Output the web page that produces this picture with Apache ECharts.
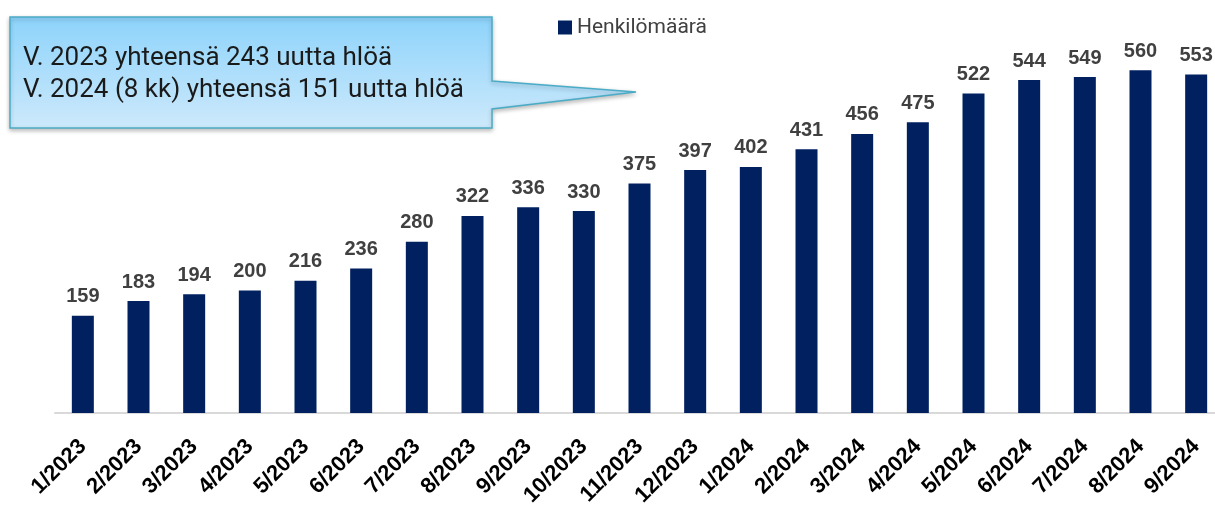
<!DOCTYPE html>
<html>
<head>
<meta charset="utf-8">
<script src="https://cdn.jsdelivr.net/npm/echarts@6/dist/echarts.min.js"></script>
<style>
  html, body { margin: 0; padding: 0; background: #fff; }
  #chart { width: 1215px; height: 507px; }
</style>
</head>
<body>
<div id="chart"></div>
<script>
// months shown on the x axis
const months = [
    "1/2023", "2/2023", "3/2023", "4/2023", "5/2023", "6/2023", "7/2023",
    "8/2023", "9/2023", "10/2023", "11/2023", "12/2023",
    "1/2024", "2/2024", "3/2024", "4/2024", "5/2024", "6/2024", "7/2024",
    "8/2024", "9/2024"
];

// head count per month
const henkilomaara = [
    159, 183, 194, 200, 216, 236, 280, 322, 336, 330, 375, 397,
    402, 431, 456, 475, 522, 544, 549, 560, 553
];

const seriesName = "Henkilömäärä";

const calloutLines = [
    "V. 2023 yhteensä 243 uutta hlöä",
    "V. 2024 (8 kk) yhteensä 151 uutta hlöä"
];

const chart = echarts.init(document.getElementById("chart"), null, { renderer: "canvas" });

chart.setOption({
    animation: false,
    backgroundColor: "#fff",
    legend: {
        data: [seriesName],
        left: 553,
        top: 12,
        icon: "rect",
        itemWidth: 14,
        itemHeight: 14,
        itemGap: 8,
        textStyle: { fontFamily: "Roboto", fontSize: 21, color: "#404040" }
    },
    // the plot runs a little past the right edge in the original,
    // so don't let echarts pull it back inside the canvas
    grid: {
        left: 55, width: 1169, top: 45.8, height: 367.2,
        containLabel: false,
        outerBoundsMode: "none"
    },
    xAxis: {
        type: "category",
        data: months,
        axisLine: { lineStyle: { color: "#d9d9d9", width: 2 } },
        axisTick: { show: false },
        axisLabel: {
            rotate: 45,
            margin: 30,
            interval: 0,
            fontFamily: "Liberation Sans",
            fontWeight: "bold",
            fontSize: 22,
            color: "#000"
        }
    },
    yAxis: {
        type: "value",
        min: 0,
        max: 600,
        show: false,
        splitLine: { show: false }
    },
    series: [{
        name: seriesName,
        type: "bar",
        data: henkilomaara,
        barWidth: 22,
        itemStyle: { color: "#002060" },
        label: {
            show: true,
            position: "top",
            distance: 9,
            fontFamily: "Liberation Sans",
            fontWeight: "bold",
            fontSize: 20,
            color: "#404040"
        }
    }],
    graphic: [{
        type: "polygon",
        shape: {
            points: [[10, 17], [492, 17], [492, 81], [636, 92], [492, 109], [492, 128], [10, 128]]
        },
        style: {
            fill: {
                type: "linear", x: 0, y: 0, x2: 0, y2: 1,
                colorStops: [
                    { offset: 0, color: "#8dd3fb" },
                    { offset: 1, color: "#cde9fb" }
                ]
            },
            stroke: "#4bacc6",
            lineWidth: 1.5,
            shadowBlur: 4,
            shadowOffsetY: 2,
            shadowColor: "rgba(0,0,0,0.25)"
        },
        z: 10
    }, {
        type: "text",
        left: 23,
        top: 42,
        style: {
            text: calloutLines.join("\n"),
            font: "26px Roboto",
            lineHeight: 32,
            fill: "#1a1a1a"
        },
        z: 11
    }]
});
</script>
</body>
</html>
